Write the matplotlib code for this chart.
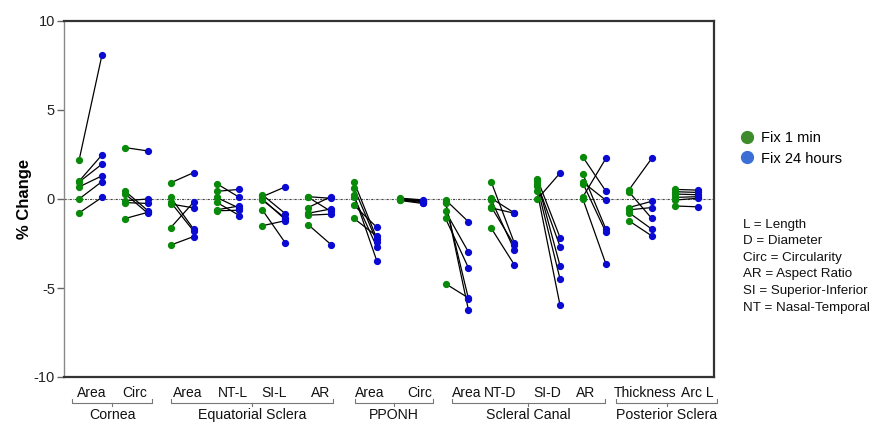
import matplotlib
matplotlib.use("Agg")
import matplotlib.pyplot as plt
from matplotlib.lines import Line2D

plt.rcParams['font.family'] = ['Liberation Sans', 'DejaVu Sans']
plt.rcParams['axes.unicode_minus'] = False

# Measurement categories (bottom tick labels) and their groups
categories = ['Area', 'Circ', 'Area', 'NT-L', 'SI-L', 'AR', 'Area', 'Circ',
              'Area', 'NT-D', 'SI-D', 'AR', 'Thickness', 'Arc L']
groups = ['Cornea', 'Equatorial Sclera', 'PPONH', 'Scleral Canal', 'Posterior Sclera']

# % change per eye, fixation 1 min
fix_1min = [
    [2.18, 1.0, 0.95, 0.68, 0.0, -0.78],
    [2.89, 0.45, 0.3, -0.1, -0.2, -1.1],
    [0.91, 0.09, -0.18, -0.28, -1.61, -2.59],
    [0.87, 0.43, 0.09, -0.18, -0.61, -0.66],
    [0.24, 0.13, 0.0, -0.06, -0.61, -1.5],
    [0.13, 0.1, -0.48, -0.8, -0.91, -1.44],
    [0.98, 0.63, 0.24, 0.13, -0.35, -1.09],
    [0.05, 0.0, -0.02, -0.05, 0.02, -0.08],
    [-0.05, -0.15, -0.25, -0.7, -1.09, -4.76],
    [0.94, 0.04, -0.06, -0.5, -0.45, -1.65],
    [1.15, 1.02, 0.87, 0.72, 0.43, -0.02],
    [2.35, 1.39, 0.94, 0.87, 0.13, -0.02],
    [0.5, 0.41, -0.48, -0.61, -0.76, -1.22],
    [0.54, 0.41, 0.28, 0.09, -0.06, -0.39],
]

# % change per eye, fixation 24 hours (same eye order)
fix_24h = [
    [8.09, 2.48, 1.96, 1.3, 0.98, 0.09],
    [2.7, -0.65, -0.8, 0.0, -0.25, -0.75],
    [1.48, -1.69, -1.8, -0.5, -0.18, -2.11],
    [0.09, 0.54, -0.52, -0.93, -0.39, -0.63],
    [-0.82, 0.68, -1.15, -1.07, -2.46, -1.22],
    [0.04, -0.7, 0.13, -0.56, -0.85, -2.56],
    [-2.22, -2.39, -3.48, -2.7, -1.59, -2.09],
    [-0.05, -0.1, -0.15, -0.2, -0.12, -0.25],
    [-1.28, -6.24, -5.6, -2.98, -3.87, -5.56],
    [-2.46, -0.78, -2.85, -0.8, -2.59, -3.69],
    [-2.17, -3.76, -2.67, -4.5, -5.98, 1.46],
    [0.44, -1.69, -0.07, -1.87, 2.28, -3.65],
    [2.28, -1.09, -0.13, -0.48, -1.69, -2.07],
    [0.5, 0.37, 0.24, 0.13, 0.04, -0.44],
]

abbreviations = ['L = Length', 'D = Diameter', 'Circ = Circularity',
                 'AR = Aspect Ratio', 'SI = Superior-Inferior', 'NT = Nasal-Temporal']

# layout: where labels and brackets sit (x in category units)
label_pos = [0.03, 0.97, 2.13, 3.11, 4.0, 5.03, 6.1, 7.19, 8.22, 8.95, 9.97, 10.8, 12.11, 13.24]
bracket_span = [(-0.40, 1.34), (1.76, 5.29), (5.78, 7.48), (7.89, 11.23), (11.47, 13.68)]

green = '#0a8a0a'
blue = '#0a0ad2'

fig = plt.figure(figsize=(8.75, 4.22), dpi=100)
# box runs from x=64..714 px and y=21..377 px
ax = fig.add_axes([64 / 875, 1 - 377 / 422, (714 - 64) / 875, (377 - 21) / 422])

off = 0.25
for i in range(len(categories)):
    for a, b in zip(fix_1min[i], fix_24h[i]):
        ax.plot([i - off, i + off], [a, b], color='black', lw=0.9, zorder=2)
    ax.plot([i - off] * len(fix_1min[i]), fix_1min[i], 'o', color=green, ms=4.2, zorder=3)
    ax.plot([i + off] * len(fix_24h[i]), fix_24h[i], 'o', color=blue, ms=4.2, zorder=3)

ax.axhline(0, color='#444444', lw=0.8, ls=(0, (2, 1, 0.6, 1)), zorder=1)

ax.set_xlim(-0.579, 13.61)
ax.set_ylim(-10, 10)
ax.set_yticks([-10, -5, 0, 5, 10])
ax.tick_params(axis='y', length=5, width=1, color='#666666', labelsize=10.5,
               labelcolor='#222222', pad=1.5)

ax.set_xticks(label_pos)
ax.set_xticklabels(categories, fontsize=10)
ax.tick_params(axis='x', length=0, pad=6.5, labelcolor='#111111')

for side in ['top', 'right', 'bottom']:
    ax.spines[side].set_color('#333333')
    ax.spines[side].set_linewidth(1.6)
ax.spines['left'].set_color('#888888')
ax.spines['left'].set_linewidth(1.0)

ax.set_ylabel('% Change', fontsize=12, fontweight='bold')
ax.yaxis.set_label_coords(-0.050, 0.5)

# group brackets under the tick labels
trans = ax.get_xaxis_transform()
y_end, y_line, y_tick = -0.061, -0.073, -0.081
for name, (x0, x1) in zip(groups, bracket_span):
    ax.plot([x0, x0, x1, x1], [y_end, y_line, y_line, y_end], color='#777777',
            lw=0.8, transform=trans, clip_on=False)
    xm = (x0 + x1) / 2
    ax.plot([xm, xm], [y_line, y_tick], color='#777777', lw=0.8,
            transform=trans, clip_on=False)
    ax.text(xm, -0.106, name, transform=trans, ha='center', va='center',
            fontsize=10.2, color='#111111')

# legend
handles = [Line2D([], [], marker='o', ls='', color='#3d8b2a', ms=8.5),
           Line2D([], [], marker='o', ls='', color='#3b6fd6', ms=8.5)]
fig.legend(handles, ['Fix 1 min', 'Fix 24 hours'], loc='upper left',
           bbox_to_anchor=(739.5 / 875, 1 - 131 / 422), frameon=False,
           fontsize=10.5, handlelength=1.0, handletextpad=0.5,
           labelspacing=0.45, borderpad=0, borderaxespad=0)

for k, line in enumerate(abbreviations):
    fig.text(743 / 875, 1 - (225 + 16.5 * k) / 422, line, ha='left', va='center',
             fontsize=9.6, color='#111111')

fig.savefig('out.png', dpi=100)
